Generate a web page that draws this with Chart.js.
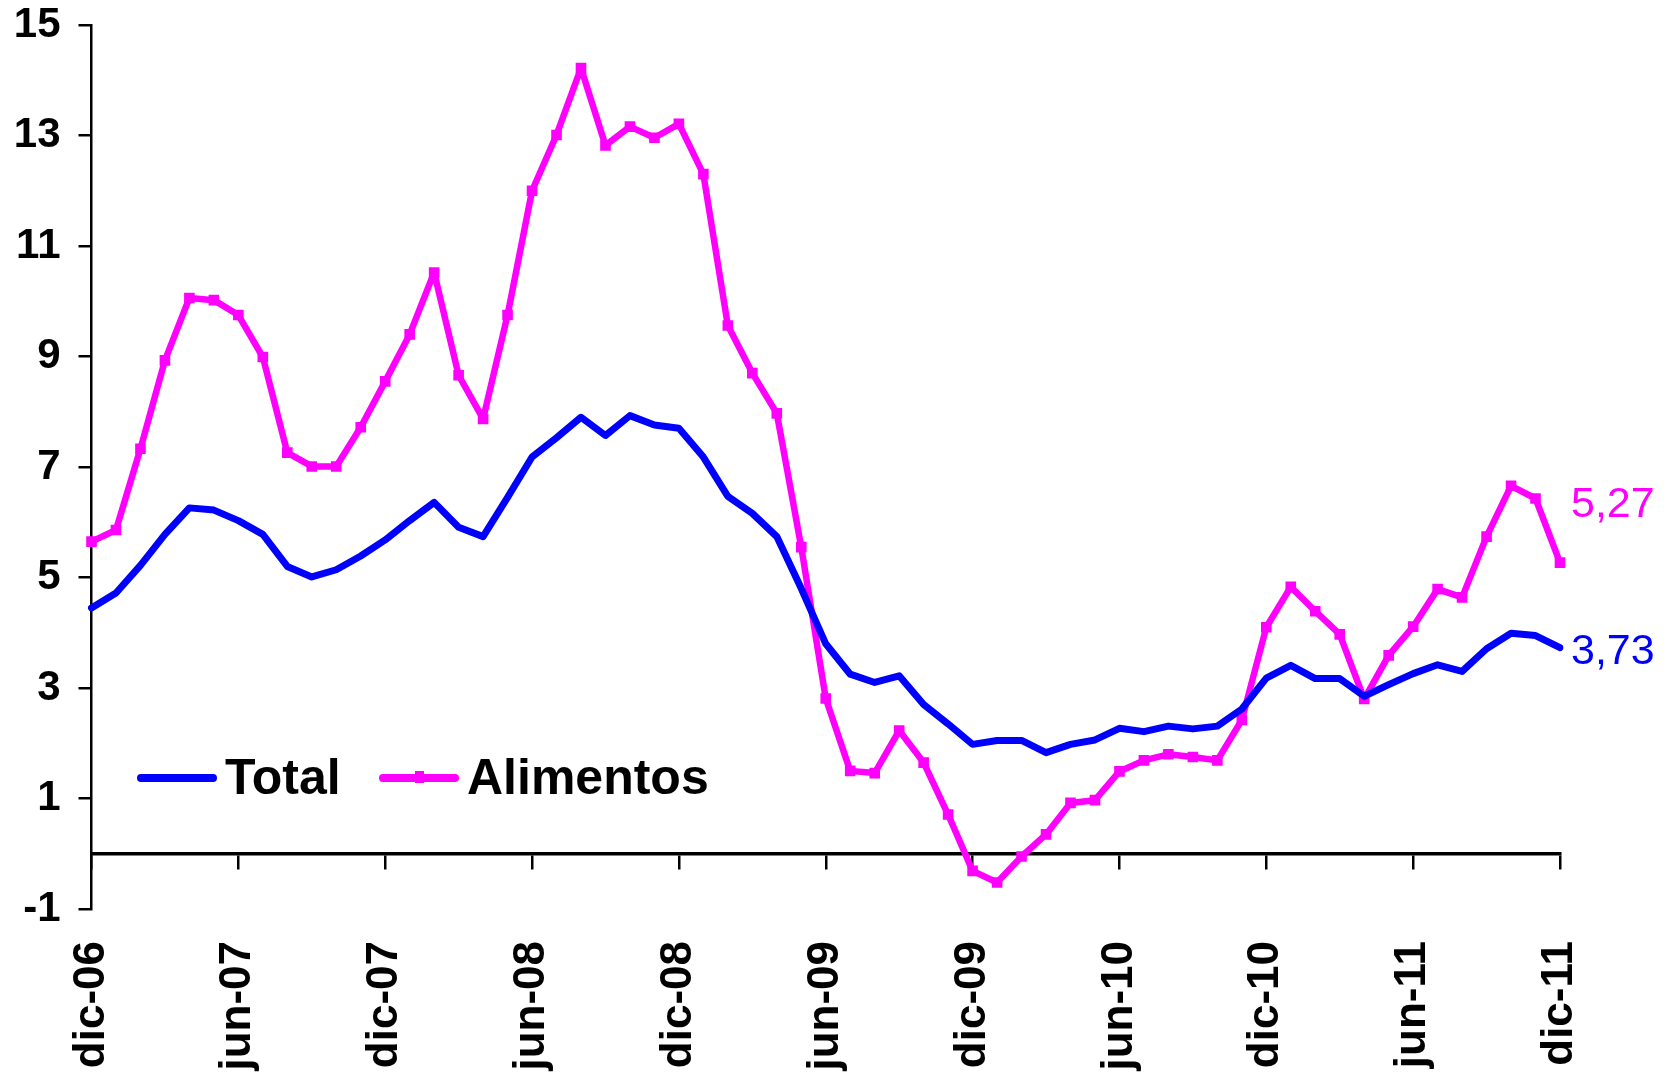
<!DOCTYPE html>
<html>
<head>
<meta charset="utf-8">
<script src="https://cdn.jsdelivr.net/npm/chart.js@4.4.0/dist/chart.umd.min.js"></script>
<style>
html,body{margin:0;padding:0;background:#fff;}
#wrap{width:1667px;height:1073px;}
</style>
</head>
<body>
<div id="wrap"><canvas id="grafico" width="1667" height="1073"></canvas></div>
<script>
// meses dic-06 .. dic-11
let meses=['dic-06',
 'ene-07','feb-07','mar-07','abr-07','may-07','jun-07','jul-07','ago-07','sep-07','oct-07','nov-07','dic-07',
 'ene-08','feb-08','mar-08','abr-08','may-08','jun-08','jul-08','ago-08','sep-08','oct-08','nov-08','dic-08',
 'ene-09','feb-09','mar-09','abr-09','may-09','jun-09','jul-09','ago-09','sep-09','oct-09','nov-09','dic-09',
 'ene-10','feb-10','mar-10','abr-10','may-10','jun-10','jul-10','ago-10','sep-10','oct-10','nov-10','dic-10',
 'ene-11','feb-11','mar-11','abr-11','may-11','jun-11','jul-11','ago-11','sep-11','oct-11','nov-11','dic-11'];
let total=[4.45,4.72,5.22,5.78,6.26,6.22,6.03,5.78,5.20,5.01,
 5.14,5.39,5.68,6.03,6.36,5.91,5.74,6.45,7.18,7.53,
 7.90,7.57,7.93,7.76,7.70,7.18,6.47,6.16,5.74,4.80,
 3.80,3.25,3.10,3.22,2.70,2.35,1.98,2.05,2.05,1.83,
 1.98,2.06,2.27,2.21,2.31,2.26,2.31,2.62,3.18,3.41,
 3.17,3.17,2.85,3.06,3.26,3.42,3.30,3.71,3.99,3.95,3.73];
let alimentos=[5.65,5.86,7.33,8.93,10.06,10.02,9.75,8.99,7.26,7.01,
 7.01,7.72,8.55,9.40,10.52,8.66,7.87,9.75,12.0,13.01,
 14.22,12.82,13.16,12.96,13.21,12.30,9.56,8.70,7.97,5.55,
 2.81,1.50,1.46,2.23,1.65,0.71,-0.31,-0.52,-0.05,0.35,
 0.92,0.97,1.49,1.69,1.80,1.75,1.69,2.42,4.10,4.83,
 4.39,3.97,2.80,3.59,4.11,4.79,4.64,5.74,6.66,6.43,5.27];
let yTicks=[-1,1,3,5,7,9,11,13,15];
let colTotal='#0000ff', colAlim='#ff00ff';
let fuente='"Liberation Sans", Arial, sans-serif';

function fmt(v){ return v.toFixed(2).replace('.',','); }
function cadaSeis(scale){ scale.ticks=scale.ticks.filter(t=>t.value%6===0); }

const extras={
  id:'extras',
  afterDatasetsDraw(chart){
    const c=chart.ctx, xs=chart.scales.x, ys=chart.scales.y;
    const n=meses.length-1;
    const xf=xs.getPixelForValue(n)+11;
    c.save();
    c.font='43px '+fuente;
    c.textBaseline='alphabetic';
    c.fillStyle=colAlim;
    c.fillText(fmt(alimentos[n]),xf,ys.getPixelForValue(alimentos[n])-46);
    c.fillStyle=colTotal;
    c.fillText(fmt(total[n]),xf,ys.getPixelForValue(total[n])+16);
    // leyenda
    const lx=[141,383], ly=778;
    chart.data.datasets.forEach(function(ds,i){
      c.strokeStyle=ds.borderColor;
      c.lineWidth=8;
      c.lineCap='round';
      c.beginPath(); c.moveTo(lx[i],ly); c.lineTo(lx[i]+72,ly); c.stroke();
      if(ds.pointRadius>0){
        c.fillStyle=ds.borderColor;
        c.fillRect(lx[i]+32,ly-7,9,12);
      }
      c.fillStyle='#000';
      c.font='bold 50px '+fuente;
      c.textBaseline='middle';
      c.fillText(ds.label,lx[i]+84,ly+2);
    });
    c.restore();
  }
};

new Chart(document.getElementById('grafico'),{
  type:'line',
  data:{
    labels:meses,
    datasets:[{
      label:'Total',
      data:total,
      borderColor:colTotal,
      backgroundColor:colTotal,
      borderWidth:7,
      pointRadius:0,
      tension:0,
      borderJoinStyle:'round',
      borderCapStyle:'round'
    },{
      label:'Alimentos',
      data:alimentos,
      borderColor:colAlim,
      backgroundColor:colAlim,
      borderWidth:6.5,
      pointStyle:'rect',
      pointRadius:7.5,
      pointBorderWidth:0,
      tension:0,
      borderJoinStyle:'round',
      borderCapStyle:'round'
    }]
  },
  options:{
    responsive:false,
    animation:false,
    layout:{padding:{top:25,right:107,bottom:0,left:0}},
    plugins:{legend:{display:false},tooltip:{enabled:false}},
    scales:{
      x:{
        type:'category',
        position:{y:0},
        offset:false,
        afterBuildTicks:cadaSeis,
        afterFit:function(s){ s.height=0; s.paddingTop=0; s.paddingBottom=0; },
        ticks:{display:false,autoSkip:false},
        grid:{drawOnChartArea:false,drawTicks:true,tickLength:14,color:'#000',lineWidth:2.5},
        border:{display:true,color:'#000',width:3.5}
      },
      xLab:{
        type:'category',
        position:'bottom',
        offset:false,
        afterBuildTicks:cadaSeis,
        afterFit:function(s){ s.height=164; s.paddingTop=0; },
        grid:{display:false,drawTicks:false},
        border:{display:false},
        ticks:{autoSkip:false,minRotation:90,maxRotation:90,padding:32,color:'#000',
          font:{family:fuente,size:44,weight:'bold'}}
      },
      y:{
        min:-1,max:15,
        afterBuildTicks:function(s){ s.ticks=yTicks.map(v=>({value:v})); },
        afterFit:function(s){ s.width=91.5; s.paddingTop=0; s.paddingBottom=0; },
        grid:{drawOnChartArea:false,drawTicks:true,tickLength:13,color:'#000',lineWidth:2.5},
        border:{display:true,color:'#000',width:2.5},
        ticks:{padding:18,color:'#000',font:{family:fuente,size:42,weight:'bold'}}
      }
    }
  },
  plugins:[extras]
});
</script>
</body>
</html>
